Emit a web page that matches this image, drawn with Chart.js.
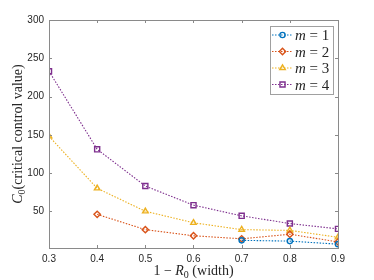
<!DOCTYPE html>
<html>
<head>
<meta charset="utf-8">
<script src="https://cdn.jsdelivr.net/npm/chart.js@4.4.0/dist/chart.umd.min.js"></script>
<style>
    html, body { margin: 0; padding: 0; background: #fff; }
    #wrap { width: 374px; height: 280px; position: relative; }
</style>
</head>
<body>
<div id="wrap"><canvas id="chart"></canvas></div>
<script>
// Data
const widths = [0.3, 0.4, 0.5, 0.6, 0.7, 0.8, 0.9];
const m1Values = [null, null, null, null, 12, 11, 7];
const m2Values = [null, 46, 26, 18, 14, 20, 10];
const m3Values = [148, 80, 50, 35, 26, 25, 16];
const m4Values = [233, 131, 83, 58, 44, 34, 27];
const seriesNames = ['1', '2', '3', '4'];
const xTicks = [0.3, 0.4, 0.5, 0.6, 0.7, 0.8, 0.9];
const yTicks = [50, 100, 150, 200, 250, 300];

const colors = ['#0072BD', '#D95319', '#EDB120', '#7E2F8E'];
const markers = ['circle', 'rectRot', 'triangle', 'rect'];
const radii = [2.6, 3.2, 3.2, 3.6];
const frameColor = '#8a8a8a';
const textColor = '#262626';
const serif = '"Liberation Serif", "DejaVu Serif", serif';

function toPoints(values) {
    return widths.map((x, i) => ({ x: x, y: values[i] }));
}

const allValues = [m1Values, m2Values, m3Values, m4Values];

const datasets = allValues.map((vals, i) => ({
    label: 'm = ' + seriesNames[i],
    data: toPoints(vals),
    borderColor: colors[i],
    backgroundColor: 'rgba(0,0,0,0)',
    borderWidth: 1.1,
    borderDash: [1.5, 1.5],
    pointStyle: markers[i],
    pointRadius: radii[i],
    pointBorderWidth: 1.4,
    pointBorderColor: colors[i],
    pointBackgroundColor: 'rgba(0,0,0,0)',
    tension: 0,
    spanGaps: false
}));

function drawParts(ctx, parts, x0, baseY, center) {
    let total = 0;
    parts.forEach(p => { ctx.font = p.f; p.w = ctx.measureText(p.t).width; total += p.w; });
    let x = center ? x0 - total / 2 : x0;
    ctx.textAlign = 'left';
    parts.forEach(p => {
        ctx.font = p.f;
        ctx.fillText(p.t, x, baseY + (p.dy || 0));
        x += p.w;
    });
}

/**
 * Box, inward ticks, axis titles and legend, MATLAB style
 */
const decorPlugin = {
    id: 'decor',
    afterDraw(chart) {
        const { ctx, chartArea: a, scales } = chart;
        ctx.save();

        // frame
        ctx.strokeStyle = frameColor;
        ctx.lineWidth = 1;
        ctx.strokeRect(a.left + 0.5, a.top + 0.5, a.right - a.left, a.bottom - a.top);

        // inward ticks
        const tl = 3;
        ctx.beginPath();
        xTicks.forEach(v => {
            const px = Math.round(scales.x.getPixelForValue(v)) + 0.5;
            ctx.moveTo(px, a.bottom); ctx.lineTo(px, a.bottom - tl);
            ctx.moveTo(px, a.top); ctx.lineTo(px, a.top + tl);
        });
        yTicks.forEach(v => {
            const py = Math.round(scales.y.getPixelForValue(v)) + 0.5;
            ctx.moveTo(a.left, py); ctx.lineTo(a.left + tl, py);
            ctx.moveTo(a.right, py); ctx.lineTo(a.right - tl, py);
        });
        ctx.stroke();

        ctx.fillStyle = textColor;
        ctx.textBaseline = 'alphabetic';

        // x title: 1 − R0 (width)
        drawParts(ctx, [
            { t: '1 \u2212 ', f: '14px ' + serif },
            { t: 'R', f: 'italic 14px ' + serif },
            { t: '0', f: '10px ' + serif, dy: 3 },
            { t: ' (width)', f: '14px ' + serif }
        ], (a.left + a.right) / 2, 275, true);

        // y title: C0(critical control value)
        ctx.save();
        ctx.translate(22, (a.top + a.bottom) / 2);
        ctx.rotate(-Math.PI / 2);
        drawParts(ctx, [
            { t: 'C', f: 'italic 14px ' + serif },
            { t: '0', f: '10px ' + serif, dy: 3 },
            { t: '(critical control value)', f: '14px ' + serif }
        ], 0, 0, true);
        ctx.restore();

        // legend
        const lx = 270, ly = 26, lw = 63, lh = 68;
        ctx.fillStyle = '#fff';
        ctx.fillRect(lx, ly, lw, lh);
        ctx.strokeStyle = '#a0a0a0';
        ctx.lineWidth = 1;
        ctx.strokeRect(lx + 0.5, ly + 0.5, lw, lh);
        chart.data.datasets.forEach((ds, i) => {
            const cy = 35 + i * 16.5;
            ctx.strokeStyle = ds.borderColor;
            ctx.lineWidth = 1.1;
            ctx.setLineDash([1.5, 1.5]);
            ctx.beginPath();
            ctx.moveTo(272, cy); ctx.lineTo(293, cy);
            ctx.stroke();
            ctx.setLineDash([]);
            ctx.lineWidth = 1.4;
            ctx.fillStyle = 'rgba(0,0,0,0)';
            Chart.helpers.drawPoint(ctx, {
                pointStyle: ds.pointStyle,
                radius: ds.pointRadius,
                rotation: 0,
                borderWidth: 1.4
            }, 282.5, cy);
            ctx.fillStyle = textColor;
            drawParts(ctx, [
                { t: 'm', f: 'italic 15px ' + serif },
                { t: ' = ' + seriesNames[i], f: '15px ' + serif }
            ], 295, cy + 5, false);
        });

        ctx.restore();
    }
};

const tickFont = { family: 'Liberation Sans, Arial, sans-serif', size: 10 };

new Chart(document.getElementById('chart'), {
    type: 'line',
    data: { datasets: datasets },
    options: {
        responsive: true,
        maintainAspectRatio: false,
        animation: false,
        layout: { padding: { top: 20, right: 36, left: 0, bottom: 0 } },
        plugins: {
            legend: { display: false },
            tooltip: { enabled: false }
        },
        scales: {
            x: {
                type: 'linear',
                min: 0.3,
                max: 0.9,
                afterBuildTicks: s => { s.ticks = xTicks.map(v => ({ value: v })); },
                afterFit: s => { s.height = 32; },
                grid: { display: false, drawTicks: false },
                border: { display: false },
                ticks: {
                    color: textColor,
                    font: tickFont,
                    padding: 5,
                    maxRotation: 0,
                    callback: v => v.toFixed(1)
                }
            },
            y: {
                min: 2,
                max: 300,
                afterBuildTicks: s => { s.ticks = yTicks.map(v => ({ value: v })); },
                afterFit: s => { s.width = 49; },
                grid: { display: false, drawTicks: false },
                border: { display: false },
                ticks: {
                    color: textColor,
                    font: tickFont,
                    padding: 5
                }
            }
        }
    },
    plugins: [decorPlugin]
});
</script>
</body>
</html>
